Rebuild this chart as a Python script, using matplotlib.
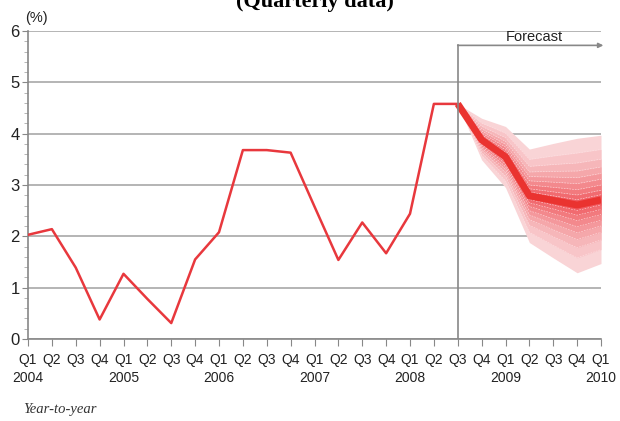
import matplotlib
matplotlib.use("Agg")
import matplotlib.pyplot as plt
import numpy as np
from matplotlib.ticker import MultipleLocator
from matplotlib import font_manager

# ---- data ----
quarters = ["Q1", "Q2", "Q3", "Q4"] * 6 + ["Q1"]
years = ["2004", "2005", "2006", "2007", "2008", "2009", "2010"]
actual = [2.03, 2.14, 1.39, 0.38, 1.27, 0.78, 0.31, 1.55, 2.08, 3.68, 3.68, 3.63,
          2.58, 1.54, 2.27, 1.67, 2.44, 4.58, 4.58]
# forecast from Q3 2008 (index 18) to Q1 2010 (index 24)
fc_center = [4.58, 3.88, 3.55, 2.79, 2.70, 2.61, 2.71]
fc_upper = [4.58, 4.30, 4.14, 3.70, 3.81, 3.91, 3.97]
fc_lower = [4.58, 3.49, 2.95, 1.88, 1.58, 1.29, 1.47]
band_fracs = [1.0, 0.78, 0.63, 0.51, 0.41, 0.32, 0.23, 0.15, 0.08]
forecast_start = 18

names = {f.name for f in font_manager.fontManager.ttflist}
if 'Liberation Sans Narrow' in names:
    sans = ['Liberation Sans Narrow', 'DejaVu Sans']
    tsize = 11
else:
    sans = ['Liberation Sans', 'DejaVu Sans']
    tsize = 10
plt.rcParams['font.family'] = sans

fig = plt.figure(figsize=(6.2, 4.21), dpi=100)
ax = fig.add_axes([28/620, 1-339/421, (601-28)/620, (339-31)/421])

x_act = np.arange(len(actual))
x_fc = np.arange(forecast_start, forecast_start + len(fc_center))
c = np.array(fc_center); u = np.array(fc_upper); l = np.array(fc_lower)

light = np.array([0.975, 0.83, 0.84])
dark = np.array([0.94, 0.36, 0.38])
n = len(band_fracs)
for i, f in enumerate(band_fracs):
    t = i / (n - 1)
    col = light * (1 - t) + dark * t
    ax.fill_between(x_fc, c + (u - c) * f, c - (c - l) * f, color=col, lw=0, zorder=2)
    if i > 0:
        ax.plot(x_fc, c + (u - c) * f, color=(1, 0.88, 0.89), lw=0.4, ls=(0, (3, 2)), zorder=2.1)
        ax.plot(x_fc, c - (c - l) * f, color=(1, 0.88, 0.89), lw=0.4, ls=(0, (3, 2)), zorder=2.1)

ax.plot(x_fc, c, color="#ea3330", lw=5, zorder=3, solid_capstyle='butt')
ax.plot(x_act, actual, color="#e8383d", lw=1.8, zorder=4)

ax.set_xlim(0, 24)
ax.set_ylim(0, 6)
ax.yaxis.set_major_locator(MultipleLocator(1))
ax.yaxis.set_minor_locator(MultipleLocator(0.2))
ax.grid(axis='y', which='major', color="#a8a8a8", lw=1.2, zorder=1)
ax.set_axisbelow(True)

labels = []
for i, q in enumerate(quarters):
    if q == "Q1":
        labels.append(q + "\n" + years[i // 4])
    else:
        labels.append(q)
ax.set_xticks(range(25))
ax.set_xticklabels(labels, fontsize=tsize, linespacing=1.4, color="#222222")
ax.tick_params(axis='x', direction='out', length=5, color="#888888", pad=5)
ax.tick_params(axis='y', which='major', direction='out', length=4, color="#888888",
               labelsize=12, pad=2, labelcolor="#222222")
ax.tick_params(axis='y', which='minor', direction='out', length=3, color="#aaaaaa")

ax.spines['right'].set_visible(False)
ax.spines['top'].set_visible(False)
ax.spines['left'].set_color("#888888")
ax.spines['bottom'].set_color("#888888")
ax.spines['left'].set_linewidth(1.2)
ax.spines['bottom'].set_linewidth(1.2)

# forecast marker
ax.plot([forecast_start, forecast_start], [0, 5.72], color="#888888", lw=1.2, zorder=5)
ax.annotate("", xy=(24.1, 5.72), xytext=(forecast_start, 5.72),
            arrowprops=dict(arrowstyle="-|>", color="#888888", lw=1.2,
                            mutation_scale=7, shrinkA=0, shrinkB=0),
            annotation_clip=False, zorder=5)
ax.text(21.2, 5.75, "Forecast", ha='center', va='bottom', fontsize=tsize + 0.5, color="#222222")

fig.text(25/620, 1-18/421, "(%)", ha='left', va='center', fontsize=tsize + 0.5, color="#222222")
fig.text(315/620, 1-2/421, "(Quarterly data)", ha='center', va='center', fontsize=16,
         fontweight='bold', family=['Liberation Serif', 'DejaVu Serif'])
fig.text(23/620, 1-410/421, "Year-to-year", ha='left', va='center', fontsize=10.5,
         style='italic', family=['Liberation Serif', 'DejaVu Serif'], color="#333333")

fig.savefig("out.png", dpi=100)
